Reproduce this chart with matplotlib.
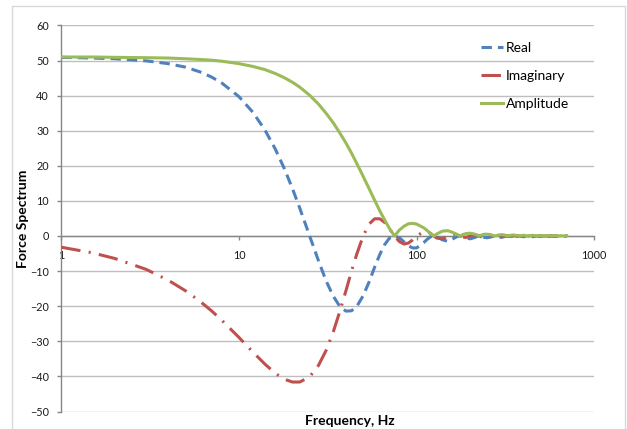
import matplotlib
matplotlib.use('Agg')
import matplotlib.pyplot as plt
from matplotlib.patches import Rectangle
from matplotlib.ticker import FixedLocator, NullLocator

# values
freq = [1, 1.5, 2, 3, 4, 5, 6, 7, 8, 10,
        12, 14, 16, 18, 20, 22, 25, 28, 31, 34,
        37, 40, 43, 46, 50, 54, 58, 62, 66, 70,
        75, 80, 85, 90, 95, 100, 110, 115, 120, 125,
        130, 140, 150, 160, 170, 175, 180, 190, 200, 210,
        220, 225, 230, 240, 250, 260, 275, 290, 300, 310,
        325, 340, 350, 360, 375, 400, 425, 450, 475, 500,
        525, 550, 575, 600, 625, 650, 675, 700]
real = [50.9, 50.7, 50.5, 49.9, 49.1, 48.1, 46.8, 45.3, 43.6, 39.7,
        35.2, 30.2, 24.8, 19.2, 13.5, 7.9, 0.0, -7.0, -12.9, -17.2,
        -20.1, -21.4, -21.3, -20.1, -17.0, -13.1, -8.9, -5.3, -2.5, -0.7,
        0.0, -0.5, -1.7, -2.8, -3.4, -3.4, -1.8, -0.9, -0.2, 0.0,
        -0.2, -1.1, -1.5, -0.8, -0.1, 0.0, -0.1, -0.6, -0.8, -0.5,
        -0.1, 0.0, -0.1, -0.4, -0.5, -0.3, 0.0, -0.2, -0.4, -0.2,
        0.0, -0.2, -0.3, -0.2, 0.0, -0.2, 0.0, -0.2, 0.0, -0.1,
        0.0, -0.1, 0.0, -0.1, 0.0, -0.1, 0.0, -0.1]
imag = [-3.2, -4.8, -6.4, -9.5, -12.6, -15.6, -18.5, -21.3, -24.0, -28.9,
        -33.1, -36.5, -39.1, -40.8, -41.6, -41.6, -40.1, -36.9, -32.5, -27.2,
        -21.4, -15.6, -10.0, -5.2, 0.0, 3.4, 4.9, 4.9, 3.9, 2.2,
        0.0, -1.6, -2.3, -2.0, -1.1, 0.0, 1.3, 1.2, 0.7, 0.0,
        -0.6, -0.8, 0.0, 0.6, 0.3, 0.0, -0.3, -0.4, 0.0, 0.4,
        0.2, 0.0, -0.2, -0.3, 0.0, 0.2, 0.0, -0.2, 0.0, 0.2,
        0.0, -0.1, 0.0, 0.1, 0.0, 0.0, 0.0, 0.0, 0.0, 0.0,
        0.0, 0.0, 0.0, 0.0, 0.0, 0.0, 0.0, 0.0]
amp = [51.0, 51.0, 50.9, 50.8, 50.7, 50.5, 50.3, 50.1, 49.8, 49.1,
       48.3, 47.4, 46.3, 45.1, 43.8, 42.4, 40.1, 37.6, 34.9, 32.2,
       29.3, 26.5, 23.6, 20.7, 17.0, 13.5, 10.2, 7.2, 4.6, 2.3,
       0.0, 1.7, 2.8, 3.5, 3.6, 3.4, 2.3, 1.5, 0.7, 0.0,
       0.6, 1.4, 1.5, 1.0, 0.4, 0.0, 0.3, 0.7, 0.8, 0.6,
       0.2, 0.0, 0.2, 0.5, 0.5, 0.4, 0.0, 0.3, 0.4, 0.3,
       0.0, 0.2, 0.3, 0.2, 0.0, 0.2, 0.0, 0.2, 0.0, 0.1,
       0.0, 0.1, 0.0, 0.1, 0.0, 0.1, 0.0, 0.1]
x_ticks = [1, 10, 100, 1000]
x_tick_labels = ['1', '10', '100', '1000']
y_ticks = list(range(-50, 61, 10))

if __name__ == "__main__":
    plt.rcParams['font.family'] = ['Lato', 'DejaVu Sans']
    plt.rcParams['lines.scale_dashes'] = False
    W, H = 627, 429
    fig = plt.figure(figsize=(W / 100, H / 100), dpi=100)
    ax = fig.add_axes([61.3 / W, 1 - 411.5 / H, (594.3 - 61.3) / W, (411.5 - 25.4) / H])

    axis_grey = '#868686'
    ax.plot(freq, real, color='#4F81BD', lw=2.2, dashes=(7.5, 4.3),
            dash_capstyle='butt', label='Real', zorder=3)
    ax.plot(freq, imag, color='#C0504D', lw=2.2, dashes=(14, 6, 1.5, 6),
            dash_capstyle='butt', label='Imaginary', zorder=3)
    ax.plot(freq, amp, color='#9BBB59', lw=2.2, label='Amplitude', zorder=4)

    ax.set_xscale('log')
    ax.set_xlim(1, 1000)
    ax.set_ylim(-50, 60)
    ax.xaxis.set_major_locator(FixedLocator(x_ticks))
    ax.xaxis.set_minor_locator(NullLocator())
    ax.set_xticklabels(x_tick_labels)
    ax.set_yticks(y_ticks)

    ax.set_axisbelow(True)
    ax.yaxis.grid(True, color='#BFBFBF', lw=1)
    ax.spines['top'].set_visible(False)
    ax.spines['right'].set_visible(False)
    ax.spines['bottom'].set_position(('data', 0))
    for side in ['bottom', 'left']:
        ax.spines[side].set_color(axis_grey)
        ax.spines[side].set_linewidth(1)
        ax.spines[side].set_zorder(1.5)
    ax.tick_params(axis='both', direction='out', length=3, width=1,
                   color=axis_grey, labelsize=7.8, labelcolor='#1a1a1a')
    ax.tick_params(axis='x', pad=7)
    ax.tick_params(axis='y', pad=6)

    fig.text(23 / W, 1 - 218.5 / H, 'Force Spectrum', fontsize=10, fontweight='bold',
             rotation=90, ha='center', va='center')
    fig.text(350 / W, 1 - 421 / H, 'Frequency, Hz', fontsize=10, fontweight='bold',
             ha='center', va='center')

    ax.legend(loc='upper left', bbox_to_anchor=(474 / W, 1 - 35 / H),
              bbox_transform=fig.transFigure, frameon=False, fontsize=10,
              handlelength=1.6, handletextpad=0.2, labelspacing=1.15, borderpad=0)

    fig.patches.append(Rectangle((12 / W, -0.05), (625 - 12) / W, 1.05 - 6 / H,
                                 transform=fig.transFigure, fill=False,
                                 edgecolor='#D9D9D9', lw=1))
    plt.savefig('out.png', dpi=100)
    plt.close()
